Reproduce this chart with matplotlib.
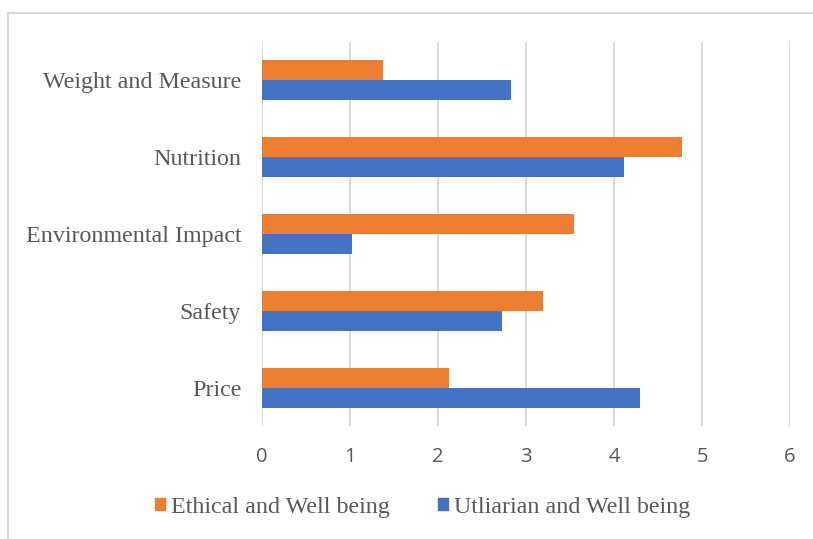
import matplotlib
matplotlib.use('Agg')
import matplotlib.pyplot as plt
from matplotlib.patches import Patch
from matplotlib.lines import Line2D

# категории снизу вверх
categories = ['Price', 'Safety', 'Environmental Impact', 'Nutrition', 'Weight and Measure']
ethical = [2.12, 3.19, 3.54, 4.77, 1.37]
utliarian = [4.29, 2.73, 1.02, 4.11, 2.83]
x_ticks = [0, 1, 2, 3, 4, 5, 6]

ORANGE = '#ED7D31'
BLUE = '#4472C4'
TEXT = '#595959'
GRID = '#D9D9D9'
SERIF = 17.3

fig = plt.figure(figsize=(8.13, 5.39), dpi=100)
ax = fig.add_axes([262 / 813, 1 - 426 / 539, 528 / 813, 384 / 539])

h = 0.26
y = list(range(len(categories)))
ax.barh([v + h / 2 for v in y], ethical, height=h, color=ORANGE, zorder=3)
ax.barh([v - h / 2 for v in y], utliarian, height=h, color=BLUE, zorder=3)

ax.set_xlim(0, 6)
ax.set_ylim(-0.5, len(categories) - 0.5)
ax.set_xticks(x_ticks)
ax.set_xticklabels([str(t) for t in x_ticks], fontsize=14.5, color=TEXT, family='Open Sans')
ax.set_yticks(y)
ax.set_yticklabels(categories, fontsize=SERIF, color=TEXT, family='Liberation Serif')
ax.tick_params(length=0)
ax.tick_params(axis='x', pad=15)
ax.tick_params(axis='y', pad=15)
ax.grid(axis='x', color=GRID, linewidth=1.4, zorder=0)
for s in ax.spines.values():
    s.set_visible(False)

# легенда под графиком
handles = [Patch(color=ORANGE), Patch(color=BLUE)]
fig.legend(handles, ['Ethical and Well being', 'Utliarian and Well being'],
           loc='center', bbox_to_anchor=(0.52, 1 - 507 / 539), ncol=2, frameon=False,
           handlelength=0.42, handleheight=0.42, handletextpad=0.25, columnspacing=2.0,
           prop={'family': 'Liberation Serif', 'size': SERIF}, labelcolor=TEXT)

# рамка области диаграммы
fig.add_artist(Line2D([8 / 813, 1], [1 - 13 / 539] * 2, color=GRID, lw=1.5))
fig.add_artist(Line2D([8 / 813] * 2, [0, 1 - 13 / 539], color=GRID, lw=1.5))

fig.savefig('out.png', dpi=100)
